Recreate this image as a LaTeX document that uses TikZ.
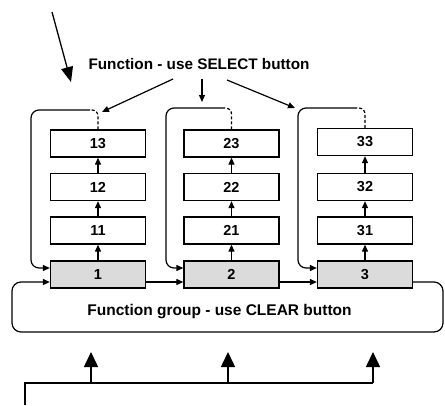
\documentclass[tikz,border=0pt]{standalone}
\usepackage{fontspec}
\setmainfont{Liberation Sans}
\usetikzlibrary{arrows.meta}
\begin{document}
\begin{tikzpicture}[x=1pt,y=-1pt,
  cell/.style={draw,line width=1.3pt,minimum width=95pt,minimum height=27pt,inner sep=0pt,
    font=\bfseries\fontsize{14.5}{15}\selectfont},
  head/.style={cell,fill=black!14},
  ln/.style={line width=1.2pt},
  sarr/.style={ln,-{Triangle[length=7pt,width=6pt]}},
  barr/.style={line width=1.5pt,-{Triangle[length=15pt,width=14pt]}},
  tarr/.style={line width=1.3pt,-{Triangle[length=15pt,width=12pt]}},
  lbl/.style={font=\bfseries\fontsize{15.3}{18}\selectfont,inner sep=0pt}]
\useasboundingbox (0,0) rectangle (445,405);

% column boxes
\node[cell] (b13) at (98,143.5) {13};
\node[cell] (b12) at (98,187) {12};
\node[cell] (b11) at (98,230.5) {11};
\node[head] (b1)  at (98,274.5) {1};

\node[cell] (b23) at (231.5,143.5) {23};
\node[cell] (b22) at (231.5,187) {22};
\node[cell] (b21) at (231.5,230.5) {21};
\node[head] (b2)  at (231.5,274.5) {2};

\node[cell] (b33) at (365,142) {33};
\node[cell] (b32) at (365,187) {32};
\node[cell] (b31) at (365,230.5) {31};
\node[head] (b3)  at (365,274.5) {3};

% upward arrows inside columns
\foreach \c in {1,2,3}{
  \draw[sarr] (b\c) -- (b\c1);
  \draw[sarr] (b\c1) -- (b\c2);
  \draw[sarr] (b\c2) -- (b\c3);
}

% loops
\draw[ln,densely dashed,rounded corners=6pt] (b13.north) -- (98,110) -- (90,110) coordinate (d1);
\draw[sarr,rounded corners=8pt] (d1) -- (31,110) -- (31,268) -- ([yshift=6.5pt]b1.west);

\draw[ln,densely dashed,rounded corners=6pt] (b23.north) -- (231.5,108) -- (224,108) coordinate (d2);
\draw[sarr,rounded corners=8pt] (d2) -- (166,108) -- (166,268) -- ([yshift=6.5pt]b2.west);

\draw[ln,densely dashed,rounded corners=6pt] (b33.north) -- (365,108) -- (357,108) coordinate (d3);
\draw[sarr,rounded corners=8pt] (d3) -- (298,108) -- (298,268) -- ([yshift=6.5pt]b3.west);

% group chain
\draw[sarr] ([yshift=-7.5pt]b1.east) -- ([yshift=-7.5pt]b2.west);
\draw[sarr] ([yshift=-7.5pt]b2.east) -- ([yshift=-7.5pt]b3.west);
\draw[sarr,rounded corners=9pt] ([yshift=-7.5pt]b3.east) -- (443,282) -- (443,332) -- (12,332) -- (12,282) -- ([yshift=-7.5pt]b1.west);

% labels
\node[lbl] (sel) at (199,64) {Function - use SELECT button};
\node[lbl,font=\bfseries\fontsize{15.5}{18}\selectfont] (grp) at (219.5,312) {Function group - use CLEAR button};

% select arrows
\coordinate (s1) at (173,79);
\coordinate (s2) at (202,79);
\coordinate (s3) at (227,80);
\coordinate (t1) at (102,112);
\coordinate (t2) at (202,102);
\coordinate (t3) at (295,108);
\draw[sarr] (s1) -- (t1);
\draw[sarr] (s2) -- (t2);
\draw[sarr] (s3) -- (t3);

% stray top-left arrow
\coordinate (p0) at (52,12);
\coordinate (p1) at (71,82);
\draw[tarr] (p0) -- (p1);

% bottom feed
\coordinate (q0) at (25,405);
\coordinate (q1) at (91,383);
\coordinate (q2) at (228,383);
\coordinate (q3) at (373,383);
\coordinate (u1) at (91,352);
\coordinate (u2) at (228,352);
\coordinate (u3) at (373,352);
\draw[line width=1.5pt] (q0) |- (q3);
\draw[barr] (q1) -- (u1);
\draw[barr] (q2) -- (u2);
\draw[barr] (q3) -- (u3);
\end{tikzpicture}
\end{document}
